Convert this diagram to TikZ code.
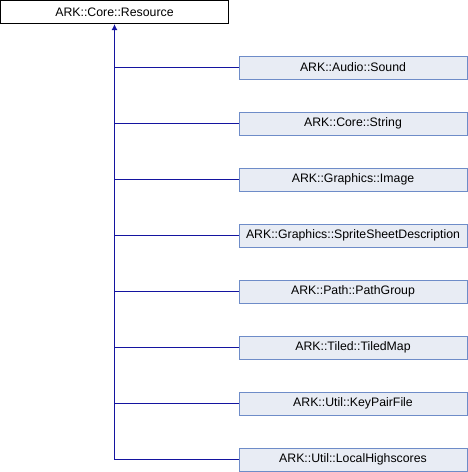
\documentclass[tikz,border=0pt]{standalone}
\usepackage{fontspec}
\setmainfont{Liberation Sans}
\usetikzlibrary{arrows.meta}
\definecolor{edgeblue}{RGB}{20,20,160}
\definecolor{boxfill}{RGB}{232,236,244}
\definecolor{boxdraw}{RGB}{110,140,200}
\begin{document}
\begin{tikzpicture}[x=1pt,y=-1pt,
  base/.style={draw=black, fill=white, line width=1pt, minimum width=228pt, minimum height=23pt, inner sep=0pt, font=\fontsize{12.3}{14}\selectfont, anchor=center},
  child/.style={draw=boxdraw, fill=boxfill, line width=1pt, minimum width=228pt, minimum height=23pt, inner sep=0pt, font=\fontsize{12.3}{14}\selectfont, anchor=center},
  link/.style={draw=edgeblue, line width=1.4pt}]
\useasboundingbox (0,0) rectangle (468,472);
\node[base] (r) at (114.5,12) {ARK::Core::Resource};
\node[child] (c1) at (353,67.5) {ARK::Audio::Sound};
\node[child] (c2) at (353,123.5) {ARK::Core::String};
\node[child] (c3) at (353,179.5) {ARK::Graphics::Image};
\node[child] (c4) at (353,235.5) {ARK::Graphics::SpriteSheetDescription};
\node[child] (c5) at (353,291.5) {ARK::Path::PathGroup};
\node[child] (c6) at (353,347.5) {ARK::Tiled::TiledMap};
\node[child] (c7) at (353,403.5) {ARK::Util::KeyPairFile};
\node[child] (c8) at (353,459.5) {ARK::Util::LocalHighscores};
\coordinate (j) at (114.5,459.5);
\draw[link, -{Latex[length=6pt,width=6pt]}] (j) -- (r.south);
\foreach \i in {1,...,8} {
  \draw[link] (c\i.west) -- (j |- c\i.west);
}
\end{tikzpicture}
\end{document}
